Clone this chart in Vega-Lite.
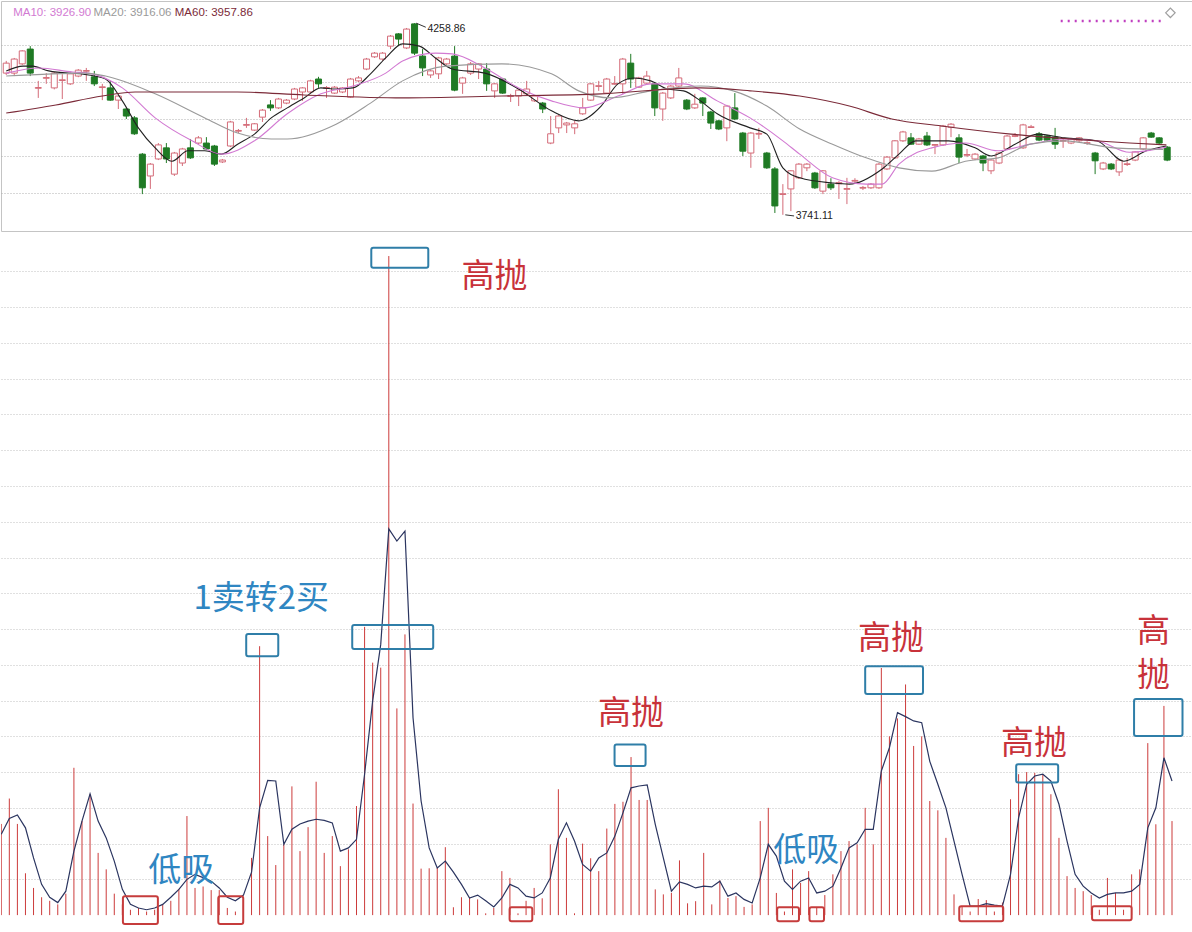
{
"$schema":"https://vega.github.io/schema/vega-lite/v6.json",
"padding":0,"spacing":0,"background":"#ffffff",
"bounds":"flush",
"resolve":{"scale":{"color":"independent","stroke":"independent"}},
"config":{"view":{"stroke":null},"text":{"font":"Liberation Sans"},"axis":{"minExtent":0,"maxExtent":0,"labelPadding":0,"tickSize":0,"offset":0}},
"datasets":{
"k":[
{"i":0,"o":4124,"c":4151,"h":4157,"l":4119},{"i":1,"o":4124,"c":4162,"h":4165,"l":4116},{"i":2,"o":4149,"c":4184,"h":4186,"l":4146},{"i":3,"o":4189,"c":4124,"h":4197,"l":4116},{"i":4,"o":4083,"c":4085,"h":4103,"l":4057},{"i":5,"o":4110,"c":4112,"h":4124,"l":4095},{"i":6,"o":4084,"c":4124,"h":4127,"l":4080},{"i":7,"o":4104,"c":4106,"h":4121,"l":4054},{"i":8,"o":4095,"c":4122,"h":4125,"l":4092},{"i":9,"o":4116,"c":4132,"h":4135,"l":4113},
{"i":10,"o":4129,"c":4131,"h":4138,"l":4103},{"i":11,"o":4114,"c":4095,"h":4130,"l":4089},{"i":12,"o":4085,"c":4087,"h":4095,"l":4051},{"i":13,"o":4084,"c":4051,"h":4103,"l":4049},{"i":14,"o":4051,"c":4062,"h":4064,"l":4027},{"i":15,"o":4027,"c":4008,"h":4030,"l":4000},{"i":16,"o":4003,"c":3960,"h":4008,"l":3957},{"i":17,"o":3905,"c":3814,"h":3908,"l":3797},{"i":18,"o":3846,"c":3878,"h":3881,"l":3811},{"i":19,"o":3892,"c":3930,"h":3935,"l":3889},
{"i":20,"o":3922,"c":3892,"h":3935,"l":3881},{"i":21,"o":3851,"c":3908,"h":3911,"l":3846},{"i":22,"o":3881,"c":3919,"h":3922,"l":3873},{"i":23,"o":3922,"c":3895,"h":3946,"l":3892},{"i":24,"o":3935,"c":3949,"h":3954,"l":3932},{"i":25,"o":3935,"c":3919,"h":3951,"l":3916},{"i":26,"o":3927,"c":3878,"h":3930,"l":3873},{"i":27,"o":3884,"c":3889,"h":3892,"l":3881},{"i":28,"o":3927,"c":3992,"h":3995,"l":3924},{"i":29,"o":3967,"c":3969,"h":3973,"l":3962},
{"i":30,"o":3983,"c":3985,"h":4003,"l":3976},{"i":31,"o":3970,"c":3987,"h":3989,"l":3968},{"i":32,"o":4005,"c":4024,"h":4027,"l":3992},{"i":33,"o":4038,"c":4030,"h":4051,"l":4022},{"i":34,"o":4030,"c":4054,"h":4057,"l":4027},{"i":35,"o":4043,"c":4051,"h":4054,"l":4040},{"i":36,"o":4054,"c":4081,"h":4084,"l":4051},{"i":37,"o":4073,"c":4084,"h":4086,"l":4049},{"i":38,"o":4073,"c":4103,"h":4106,"l":4070},{"i":39,"o":4108,"c":4095,"h":4114,"l":4084},
{"i":40,"o":4083,"c":4085,"h":4089,"l":4057},{"i":41,"o":4070,"c":4086,"h":4089,"l":4068},{"i":42,"o":4073,"c":4084,"h":4086,"l":4070},{"i":43,"o":4059,"c":4108,"h":4111,"l":4057},{"i":44,"o":4103,"c":4111,"h":4116,"l":4100},{"i":45,"o":4135,"c":4162,"h":4165,"l":4132},{"i":46,"o":4168,"c":4178,"h":4181,"l":4165},{"i":47,"o":4162,"c":4178,"h":4181,"l":4157},{"i":48,"o":4197,"c":4224,"h":4227,"l":4189},{"i":49,"o":4230,"c":4216,"h":4232,"l":4200},
{"i":50,"o":4192,"c":4243,"h":4246,"l":4189},{"i":51,"o":4257,"c":4178,"h":4259,"l":4173},{"i":52,"o":4170,"c":4138,"h":4189,"l":4116},{"i":53,"o":4119,"c":4130,"h":4135,"l":4111},{"i":54,"o":4122,"c":4165,"h":4168,"l":4108},{"i":55,"o":4149,"c":4162,"h":4165,"l":4146},{"i":56,"o":4170,"c":4078,"h":4197,"l":4075},{"i":57,"o":4097,"c":4111,"h":4114,"l":4068},{"i":58,"o":4124,"c":4149,"h":4154,"l":4119},{"i":59,"o":4135,"c":4149,"h":4151,"l":4108},
{"i":60,"o":4135,"c":4095,"h":4151,"l":4076},{"i":61,"o":4076,"c":4095,"h":4097,"l":4057},{"i":62,"o":4108,"c":4070,"h":4111,"l":4068},{"i":63,"o":4061,"c":4063,"h":4068,"l":4046},{"i":64,"o":4062,"c":4078,"h":4081,"l":4035},{"i":65,"o":4068,"c":4081,"h":4103,"l":4065},{"i":66,"o":4049,"c":4062,"h":4065,"l":4046},{"i":67,"o":4043,"c":4027,"h":4046,"l":4016},{"i":68,"o":3935,"c":3960,"h":4008,"l":3932},{"i":69,"o":3976,"c":4008,"h":4011,"l":3962},
{"i":70,"o":3984,"c":3989,"h":3992,"l":3962},{"i":71,"o":3976,"c":3987,"h":3995,"l":3959},{"i":72,"o":4014,"c":4030,"h":4057,"l":4011},{"i":73,"o":4051,"c":4095,"h":4097,"l":4049},{"i":74,"o":4088,"c":4090,"h":4103,"l":4076},{"i":75,"o":4070,"c":4108,"h":4111,"l":4068},{"i":76,"o":4094,"c":4096,"h":4116,"l":4092},{"i":77,"o":4095,"c":4162,"h":4165,"l":4068},{"i":78,"o":4151,"c":4108,"h":4176,"l":4084},{"i":79,"o":4086,"c":4111,"h":4114,"l":4084},
{"i":80,"o":4097,"c":4116,"h":4130,"l":4095},{"i":81,"o":4095,"c":4030,"h":4100,"l":4008},{"i":82,"o":4027,"c":4070,"h":4073,"l":3995},{"i":83,"o":4057,"c":4089,"h":4092,"l":4054},{"i":84,"o":4089,"c":4111,"h":4138,"l":4086},{"i":85,"o":4051,"c":4027,"h":4054,"l":4024},{"i":86,"o":4030,"c":4040,"h":4068,"l":4027},{"i":87,"o":4057,"c":4043,"h":4059,"l":4008},{"i":88,"o":4019,"c":3989,"h":4022,"l":3973},{"i":89,"o":3995,"c":3973,"h":3997,"l":3970},
{"i":90,"o":3976,"c":4035,"h":4038,"l":3940},{"i":91,"o":4030,"c":4000,"h":4070,"l":3997},{"i":92,"o":3962,"c":3913,"h":3965,"l":3900},{"i":93,"o":3908,"c":3962,"h":3965,"l":3868},{"i":94,"o":3959,"c":3961,"h":3976,"l":3946},{"i":95,"o":3908,"c":3868,"h":3911,"l":3865},{"i":96,"o":3865,"c":3765,"h":3870,"l":3746},{"i":97,"o":3796,"c":3798,"h":3824,"l":3741},{"i":98,"o":3811,"c":3860,"h":3862,"l":3751},{"i":99,"o":3841,"c":3878,"h":3881,"l":3838},
{"i":100,"o":3868,"c":3878,"h":3881,"l":3859},{"i":101,"o":3854,"c":3814,"h":3857,"l":3811},{"i":102,"o":3805,"c":3860,"h":3862,"l":3797},{"i":103,"o":3824,"c":3814,"h":3840,"l":3808},{"i":104,"o":3825,"c":3828,"h":3832,"l":3784},{"i":105,"o":3810,"c":3812,"h":3841,"l":3770},{"i":106,"o":3832,"c":3834,"h":3840,"l":3825},{"i":107,"o":3813,"c":3815,"h":3819,"l":3808},{"i":108,"o":3814,"c":3824,"h":3827,"l":3811},{"i":109,"o":3814,"c":3878,"h":3881,"l":3811},
{"i":110,"o":3865,"c":3897,"h":3900,"l":3862},{"i":111,"o":3895,"c":3941,"h":3943,"l":3892},{"i":112,"o":3941,"c":3965,"h":3968,"l":3938},{"i":113,"o":3949,"c":3932,"h":3962,"l":3930},{"i":114,"o":3932,"c":3946,"h":3949,"l":3930},{"i":115,"o":3954,"c":3930,"h":3965,"l":3927},{"i":116,"o":3929,"c":3931,"h":3932,"l":3905},{"i":117,"o":3930,"c":3981,"h":3984,"l":3927},{"i":118,"o":3978,"c":3986,"h":3989,"l":3951},{"i":119,"o":3949,"c":3897,"h":3959,"l":3881},
{"i":120,"o":3902,"c":3904,"h":3919,"l":3897},{"i":121,"o":3892,"c":3905,"h":3908,"l":3889},{"i":122,"o":3900,"c":3881,"h":3903,"l":3859},{"i":123,"o":3860,"c":3889,"h":3892,"l":3851},{"i":124,"o":3881,"c":3908,"h":3911,"l":3878},{"i":125,"o":3919,"c":3954,"h":3957,"l":3916},{"i":126,"o":3953,"c":3955,"h":3962,"l":3951},{"i":127,"o":3922,"c":3984,"h":3987,"l":3919},{"i":128,"o":3977,"c":3979,"h":3984,"l":3976},{"i":129,"o":3960,"c":3943,"h":3965,"l":3940},
{"i":130,"o":3954,"c":3943,"h":3957,"l":3940},{"i":131,"o":3951,"c":3932,"h":3976,"l":3919},{"i":132,"o":3940,"c":3942,"h":3946,"l":3922},{"i":133,"o":3935,"c":3946,"h":3949,"l":3932},{"i":134,"o":3941,"c":3949,"h":3951,"l":3938},{"i":135,"o":3934,"c":3936,"h":3940,"l":3930},{"i":136,"o":3908,"c":3887,"h":3911,"l":3851},{"i":137,"o":3865,"c":3881,"h":3884,"l":3862},{"i":138,"o":3878,"c":3865,"h":3881,"l":3862},{"i":139,"o":3857,"c":3889,"h":3892,"l":3846},
{"i":140,"o":3877,"c":3879,"h":3895,"l":3873},{"i":141,"o":3889,"c":3911,"h":3913,"l":3886},{"i":142,"o":3919,"c":3949,"h":3951,"l":3916},{"i":143,"o":3962,"c":3951,"h":3965,"l":3949},{"i":144,"o":3949,"c":3935,"h":3951,"l":3932},{"i":145,"o":3924,"c":3889,"h":3927,"l":3886}
],
"ma":[
{"i":0,"k":"MA5","v":4130},{"i":2.1,"k":"MA5","v":4143},{"i":3.3,"k":"MA5","v":4143},{"i":5.3,"k":"MA5","v":4130},{"i":10.3,"k":"MA5","v":4119},{"i":12.4,"k":"MA5","v":4108},{"i":14.5,"k":"MA5","v":4049},{"i":16.5,"k":"MA5","v":3976},{"i":18.6,"k":"MA5","v":3922},{"i":20.7,"k":"MA5","v":3886},{"i":22.7,"k":"MA5","v":3914},{"i":24.8,"k":"MA5","v":3914},{"i":26.9,"k":"MA5","v":3905},{"i":28.9,"k":"MA5","v":3932},{"i":31,"k":"MA5","v":3959},{"i":33.1,"k":"MA5","v":4003},{"i":35.1,"k":"MA5","v":4030},{"i":37.2,"k":"MA5","v":4057},{"i":39.3,"k":"MA5","v":4084},{"i":41.2,"k":"MA5","v":4081},{"i":43.3,"k":"MA5","v":4084},{"i":45.5,"k":"MA5","v":4122},{"i":47.4,"k":"MA5","v":4165},{"i":49.5,"k":"MA5","v":4203},{"i":51.6,"k":"MA5","v":4197},{"i":53.6,"k":"MA5","v":4165},{"i":55.7,"k":"MA5","v":4135},{"i":59.8,"k":"MA5","v":4124},{"i":64,"k":"MA5","v":4081},{"i":68.1,"k":"MA5","v":4022},{"i":71.5,"k":"MA5","v":3995},{"i":74.3,"k":"MA5","v":4035},{"i":76.4,"k":"MA5","v":4095},{"i":78.4,"k":"MA5","v":4111},{"i":80.5,"k":"MA5","v":4103},{"i":82.6,"k":"MA5","v":4081},{"i":84.6,"k":"MA5","v":4076},{"i":86.7,"k":"MA5","v":4049},{"i":88.8,"k":"MA5","v":4014},{"i":92.9,"k":"MA5","v":3976},{"i":95,"k":"MA5","v":3959},{"i":97,"k":"MA5","v":3868},{"i":99.1,"k":"MA5","v":3841},{"i":103.2,"k":"MA5","v":3827},{"i":105.3,"k":"MA5","v":3824},{"i":109.4,"k":"MA5","v":3865},{"i":111.5,"k":"MA5","v":3905},{"i":113.6,"k":"MA5","v":3941},{"i":117.7,"k":"MA5","v":3941},{"i":121,"k":"MA5","v":3922},{"i":123,"k":"MA5","v":3900},{"i":126,"k":"MA5","v":3932},{"i":128.8,"k":"MA5","v":3959},{"i":132.2,"k":"MA5","v":3949},{"i":136.2,"k":"MA5","v":3941},{"i":139.6,"k":"MA5","v":3886},{"i":142.4,"k":"MA5","v":3914},{"i":144.9,"k":"MA5","v":3927},
{"i":0,"k":"MA10","v":4124},{"i":4.1,"k":"MA10","v":4138},{"i":8.3,"k":"MA10","v":4127},{"i":10.3,"k":"MA10","v":4124},{"i":14.5,"k":"MA10","v":4084},{"i":18.6,"k":"MA10","v":4003},{"i":23.2,"k":"MA10","v":3941},{"i":26.9,"k":"MA10","v":3905},{"i":31,"k":"MA10","v":3941},{"i":35.1,"k":"MA10","v":4014},{"i":39.3,"k":"MA10","v":4068},{"i":43.3,"k":"MA10","v":4089},{"i":47.4,"k":"MA10","v":4124},{"i":49.5,"k":"MA10","v":4157},{"i":53.6,"k":"MA10","v":4178},{"i":55.7,"k":"MA10","v":4176},{"i":59.8,"k":"MA10","v":4138},{"i":64,"k":"MA10","v":4084},{"i":68.1,"k":"MA10","v":4049},{"i":72.2,"k":"MA10","v":4030},{"i":76.4,"k":"MA10","v":4062},{"i":80.5,"k":"MA10","v":4095},{"i":84.6,"k":"MA10","v":4095},{"i":88.8,"k":"MA10","v":4049},{"i":92.9,"k":"MA10","v":4003},{"i":97,"k":"MA10","v":3941},{"i":99.1,"k":"MA10","v":3905},{"i":103.2,"k":"MA10","v":3841},{"i":107.4,"k":"MA10","v":3824},{"i":109.4,"k":"MA10","v":3824},{"i":111.5,"k":"MA10","v":3878},{"i":115.6,"k":"MA10","v":3922},{"i":119.8,"k":"MA10","v":3935},{"i":123.9,"k":"MA10","v":3914},{"i":127.9,"k":"MA10","v":3932},{"i":132.2,"k":"MA10","v":3946},{"i":136.2,"k":"MA10","v":3941},{"i":140.3,"k":"MA10","v":3910},{"i":144.9,"k":"MA10","v":3924},
{"i":0,"k":"MA20","v":4116},{"i":9.9,"k":"MA20","v":4124},{"i":12.4,"k":"MA20","v":4116},{"i":18.6,"k":"MA20","v":4068},{"i":24.8,"k":"MA20","v":4003},{"i":28.9,"k":"MA20","v":3962},{"i":33.1,"k":"MA20","v":3946},{"i":35.1,"k":"MA20","v":3946},{"i":41.2,"k":"MA20","v":3986},{"i":45.5,"k":"MA20","v":4043},{"i":49.5,"k":"MA20","v":4103},{"i":54.9,"k":"MA20","v":4143},{"i":61.9,"k":"MA20","v":4149},{"i":68.1,"k":"MA20","v":4122},{"i":71.5,"k":"MA20","v":4076},{"i":75.6,"k":"MA20","v":4057},{"i":80.5,"k":"MA20","v":4076},{"i":86.7,"k":"MA20","v":4089},{"i":90.8,"k":"MA20","v":4076},{"i":95,"k":"MA20","v":4035},{"i":99.1,"k":"MA20","v":3973},{"i":103.2,"k":"MA20","v":3932},{"i":107.4,"k":"MA20","v":3895},{"i":111.5,"k":"MA20","v":3868},{"i":115.6,"k":"MA20","v":3859},{"i":119.8,"k":"MA20","v":3886},{"i":123.9,"k":"MA20","v":3895},{"i":127.9,"k":"MA20","v":3932},{"i":132.2,"k":"MA20","v":3941},{"i":138.3,"k":"MA20","v":3922},{"i":144.5,"k":"MA20","v":3918},
{"i":0,"k":"MA60","v":4016},{"i":6.2,"k":"MA60","v":4038},{"i":12,"k":"MA60","v":4062},{"i":16.1,"k":"MA60","v":4073},{"i":28.9,"k":"MA60","v":4073},{"i":37.2,"k":"MA60","v":4065},{"i":49.5,"k":"MA60","v":4057},{"i":61.9,"k":"MA60","v":4062},{"i":74.3,"k":"MA60","v":4068},{"i":86.7,"k":"MA60","v":4084},{"i":92.9,"k":"MA60","v":4076},{"i":99.1,"k":"MA60","v":4062},{"i":105.3,"k":"MA60","v":4035},{"i":110.6,"k":"MA60","v":4000},{"i":116.8,"k":"MA60","v":3981},{"i":125.5,"k":"MA60","v":3959},{"i":136.2,"k":"MA60","v":3941},{"i":140.3,"k":"MA60","v":3935},{"i":144.9,"k":"MA60","v":3930}
],
"hdr":[
{"i":0.87,"p":4286,"t":"MA10: 3926.90","k":"MA10"},{"i":10.9,"p":4286,"t":"MA20: 3916.06","k":"MA20"},{"i":21.05,"p":4286,"t":"MA60: 3957.86","k":"MA60"}
],
"notes":[{"i":52.6,"p":4243,"t":"4258.86"},{"i":98.6,"p":3737,"t":"3741.11"}],
"arr":[{"i":51.2,"p":4259,"i2":52.4,"p2":4248},{"i":97.3,"p":3741,"i2":98.4,"p2":3738}],
"dots":[{"i":131.7,"i2":144.3,"p":4265}],
"icon":[{"i":145.4,"p":4287}],
"osc":[
{"i":0,"b":2.55,"m":2.26},{"i":1,"b":3.26,"m":2.7},{"i":2,"b":2.55,"m":2.8},{"i":3,"b":1.17,"m":2.44},{"i":4,"b":0.76,"m":1.6},{"i":5,"b":0.5,"m":0.86},{"i":6,"b":0.4,"m":0.5},{"i":7,"b":0.3,"m":0.35},{"i":8,"b":0.6,"m":0.67},{"i":9,"b":4.12,"m":1.79},
{"i":10,"b":2.63,"m":2.63},{"i":11,"b":3.38,"m":3.39},{"i":12,"b":1.74,"m":2.63},{"i":13,"b":1.28,"m":2.16},{"i":14,"b":0.6,"m":1.51},{"i":15,"b":0.3,"m":0.72},{"i":16,"b":0.15,"m":0.3},{"i":17,"b":0.2,"m":0.2},{"i":18,"b":0.1,"m":0.15},{"i":19,"b":0.15,"m":0.2},
{"i":20,"b":0.3,"m":0.3},{"i":21,"b":0.4,"m":0.5},{"i":22,"b":0.73,"m":0.72},{"i":23,"b":2.77,"m":1.0},{"i":24,"b":0.76,"m":1.14},{"i":25,"b":0.8,"m":1.05},{"i":26,"b":0.7,"m":0.95},{"i":27,"b":0.7,"m":0.76},{"i":28,"b":0.2,"m":0.5},{"i":29,"b":0.1,"m":0.4},
{"i":30,"b":0.3,"m":0.56},{"i":31,"b":1.6,"m":1.2},{"i":32,"b":7.52,"m":3.0},{"i":33,"b":2.21,"m":3.77},{"i":34,"b":1.4,"m":3.75},{"i":35,"b":1.98,"m":1.98},{"i":36,"b":3.6,"m":2.4},{"i":37,"b":1.79,"m":2.55},{"i":38,"b":2.46,"m":2.63},{"i":39,"b":3.73,"m":2.68},
{"i":40,"b":1.74,"m":2.65},{"i":41,"b":2.21,"m":2.58},{"i":42,"b":1.37,"m":1.79},{"i":43,"b":1.84,"m":1.88},{"i":44,"b":3.05,"m":2.12},{"i":45,"b":8.06,"m":3.94},{"i":46,"b":7.06,"m":5.99},{"i":47,"b":6.92,"m":7.57},{"i":48,"b":18.43,"m":10.8},{"i":49,"b":5.78,"m":10.46},
{"i":50,"b":7.85,"m":10.74},{"i":51,"b":3.12,"m":5.52},{"i":52,"b":1.3,"m":3.19},{"i":53,"b":1.31,"m":1.88},{"i":54,"b":1.32,"m":1.32},{"i":55,"b":1.9,"m":1.51},{"i":56,"b":0.22,"m":1.2},{"i":57,"b":0.5,"m":0.86},{"i":58,"b":0.48,"m":0.48},{"i":59,"b":0.44,"m":0.56},
{"i":60,"b":0.05,"m":0.4},{"i":61,"b":0.2,"m":0.23},{"i":62,"b":1.23,"m":0.48},{"i":63,"b":1.04,"m":0.86},{"i":64,"b":0.05,"m":0.76},{"i":65,"b":0.4,"m":0.53},{"i":66,"b":0.76,"m":0.48},{"i":67,"b":0.47,"m":0.62},{"i":68,"b":1.98,"m":1.04},{"i":69,"b":3.52,"m":2.12},
{"i":70,"b":2.16,"m":2.58},{"i":71,"b":0.05,"m":2.07},{"i":72,"b":2.0,"m":1.42},{"i":73,"b":1.59,"m":1.23},{"i":74,"b":1.23,"m":1.6},{"i":75,"b":2.42,"m":1.74},{"i":76,"b":3.11,"m":2.21},{"i":77,"b":3.17,"m":2.86},{"i":78,"b":4.42,"m":3.56},{"i":79,"b":3.22,"m":3.61},
{"i":80,"b":3.22,"m":3.64},{"i":81,"b":0.72,"m":2.54},{"i":82,"b":0.58,"m":1.6},{"i":83,"b":0.62,"m":0.67},{"i":84,"b":1.53,"m":0.93},{"i":85,"b":0.33,"m":0.86},{"i":86,"b":0.39,"m":0.76},{"i":87,"b":1.74,"m":0.81},{"i":88,"b":0.3,"m":0.79},{"i":89,"b":0.97,"m":0.95},
{"i":90,"b":0.48,"m":0.53},{"i":91,"b":0.53,"m":0.62},{"i":92,"b":0.23,"m":0.44},{"i":93,"b":0.3,"m":0.34},{"i":94,"b":2.63,"m":1.04},{"i":95,"b":3.0,"m":1.98},{"i":96,"b":0.62,"m":1.65},{"i":97,"b":0.1,"m":0.95},{"i":98,"b":1.28,"m":0.72},{"i":99,"b":0.9,"m":0.95},
{"i":100,"b":1.23,"m":1.04},{"i":101,"b":0.2,"m":0.62},{"i":102,"b":0.56,"m":0.67},{"i":103,"b":1.14,"m":0.81},{"i":104,"b":1.79,"m":1.32},{"i":105,"b":2.07,"m":1.88},{"i":106,"b":1.98,"m":2.02},{"i":107,"b":3.0,"m":2.4},{"i":108,"b":1.98,"m":2.4},{"i":109,"b":6.91,"m":4.03},
{"i":110,"b":5.0,"m":4.68},{"i":111,"b":5.5,"m":5.66},{"i":112,"b":6.45,"m":5.55},{"i":113,"b":4.73,"m":5.43},{"i":114,"b":5.0,"m":5.38},{"i":115,"b":3.19,"m":4.3},{"i":116,"b":2.93,"m":3.66},{"i":117,"b":2.16,"m":3.0},{"i":118,"b":0.58,"m":2.07},{"i":119,"b":0.25,"m":1.14},
{"i":120,"b":0.1,"m":0.25},{"i":121,"b":0.45,"m":0.25},{"i":122,"b":0.42,"m":0.32},{"i":123,"b":0.1,"m":0.28},{"i":124,"b":0.35,"m":0.25},{"i":125,"b":3.24,"m":1.14},{"i":126,"b":3.94,"m":2.72},{"i":127,"b":4.0,"m":3.66},{"i":128,"b":3.98,"m":3.89},{"i":129,"b":3.94,"m":3.94},
{"i":130,"b":3.38,"m":3.75},{"i":131,"b":2.16,"m":3.1},{"i":132,"b":1.09,"m":2.07},{"i":133,"b":0.76,"m":1.14},{"i":134,"b":0.67,"m":0.81},{"i":135,"b":0.56,"m":0.62},{"i":136,"b":0.15,"m":0.48},{"i":137,"b":1.04,"m":0.58},{"i":138,"b":0.62,"m":0.62},{"i":139,"b":0.15,"m":0.62},
{"i":140,"b":1.14,"m":0.67},{"i":141,"b":1.28,"m":0.86},{"i":142,"b":4.81,"m":2.44},{"i":143,"b":2.54,"m":3.0},{"i":144,"b":5.85,"m":4.4},{"i":145,"b":2.63,"m":3.75}
],
"boxes":[
{"x1":45.83,"x2":52.89,"y1":18.66,"y2":18.1,"k":"sell"},{"x1":30.34,"x2":34.31,"y1":7.86,"y2":7.24,"k":"sell"},{"x1":43.47,"x2":53.5,"y1":8.11,"y2":7.44,"k":"sell"},{"x1":75.96,"x2":79.8,"y1":4.77,"y2":4.17,"k":"sell"},{"x1":107.0,"x2":114.16,"y1":6.96,"y2":6.18,"k":"sell"},{"x1":125.7,"x2":130.9,"y1":4.22,"y2":3.71,"k":"sell"},{"x1":140.3,"x2":146.3,"y1":6.04,"y2":5.01,"k":"sell"},
{"x1":15.07,"x2":19.4,"y1":0.53,"y2":-0.25,"k":"buy"},{"x1":26.88,"x2":29.97,"y1":0.53,"y2":-0.25,"k":"buy"},{"x1":62.96,"x2":65.77,"y1":0.22,"y2":-0.17,"k":"buy"},{"x1":96.1,"x2":98.8,"y1":0.22,"y2":-0.17,"k":"buy"},{"x1":100.1,"x2":101.9,"y1":0.22,"y2":-0.17,"k":"buy"},{"x1":118.65,"x2":124.1,"y1":0.25,"y2":-0.17,"k":"buy"},{"x1":135.1,"x2":140.0,"y1":0.25,"y2":-0.14,"k":"buy"}
],
"labels":[
{"i":61.1,"v":17.85,"t":"高抛","k":"sell"},{"i":32.2,"v":8.84,"t":"1卖转2买","k":"buy"},{"i":22.3,"v":1.23,"t":"低吸","k":"buy"},{"i":78.0,"v":5.62,"t":"高抛","k":"sell"},{"i":99.7,"v":1.79,"t":"低吸","k":"buy"},{"i":110.2,"v":7.72,"t":"高抛","k":"sell"},{"i":127.9,"v":4.78,"t":"高抛","k":"sell"},{"i":142.7,"v":7.92,"t":"高","k":"sell"},{"i":142.7,"v":6.69,"t":"抛","k":"sell"}
]
},
"vconcat":[
{
"width":1192,"height":230,
"view":{"stroke":"#c4c4c4"},
"layer":[
{"data":{"name":"k"},"mark":{"type":"rule","strokeWidth":1,"clip":true},
 "encoding":{
  "x":{"field":"i","type":"quantitative","scale":{"domain":[-0.03,147.6],"nice":false,"zero":false},"axis":null},
  "y":{"field":"l","type":"quantitative","scale":{"domain":[3697.3,4318.9],"nice":false,"zero":false},"axis":{"grid":true,"values":[3800,3900,4000,4100,4200],"labels":false,"ticks":false,"domain":false,"title":null,"gridDash":[1,2],"gridColor":"#b0b0b0","gridWidth":1}},
  "y2":{"field":"h"},
  "color":{"condition":{"test":"datum.c >= datum.o","value":"#d46b78"},"value":"#1f7a24"}}},
{"data":{"name":"k"},"mark":{"type":"bar","size":6,"strokeWidth":1,"clip":true},
 "encoding":{
  "x":{"field":"i","type":"quantitative"},
  "y":{"field":"o","type":"quantitative"},
  "y2":{"field":"c"},
  "fill":{"condition":{"test":"datum.c >= datum.o","value":"#ffffff"},"value":"#1f7a24"},
  "stroke":{"condition":{"test":"datum.c >= datum.o","value":"#d46b78"},"value":"#1f7a24"}}},
{"data":{"name":"ma"},"mark":{"type":"line","strokeWidth":1.1,"interpolate":"monotone","clip":true},
 "encoding":{
  "x":{"field":"i","type":"quantitative"},
  "y":{"field":"v","type":"quantitative"},
  "color":{"field":"k","type":"nominal","scale":{"domain":["MA5","MA10","MA20","MA60"],"range":["#222222","#d27ad2","#9a9a9a","#7b2a38"]},"legend":null},
  "order":{"field":"i"}}},
{"data":{"name":"hdr"},"mark":{"type":"text","align":"left","baseline":"middle","fontSize":11.5,"clip":true},
 "encoding":{
  "x":{"field":"i","type":"quantitative"},
  "y":{"field":"p","type":"quantitative"},
  "text":{"field":"t"},
  "color":{"field":"k","type":"nominal","legend":null}}},
{"data":{"name":"notes"},"mark":{"type":"text","align":"left","baseline":"middle","fontSize":10.5,"color":"#222222","clip":true},
 "encoding":{"x":{"field":"i","type":"quantitative"},"y":{"field":"p","type":"quantitative"},"text":{"field":"t"}}},
{"data":{"name":"arr"},"mark":{"type":"rule","color":"#333333","strokeWidth":1,"clip":true},
 "encoding":{"x":{"field":"i","type":"quantitative"},"x2":{"field":"i2"},"y":{"field":"p","type":"quantitative"},"y2":{"field":"p2"}}},
{"data":{"name":"dots"},"mark":{"type":"rule","color":"#c040c0","strokeWidth":2.5,"strokeDash":[2,5],"clip":true},
 "encoding":{"x":{"field":"i","type":"quantitative"},"x2":{"field":"i2"},"y":{"field":"p","type":"quantitative"}}},
{"data":{"name":"icon"},"mark":{"type":"point","shape":"diamond","filled":false,"color":"#777777","size":90,"strokeWidth":1.2,"clip":true},
 "encoding":{"x":{"field":"i","type":"quantitative"},"y":{"field":"p","type":"quantitative"}}}
]
},
{
"width":1192,"height":702,
"layer":[
{"data":{"name":"osc"},"mark":{"type":"rule","color":"#cc3b3b","strokeWidth":1,"clip":true},
 "encoding":{
  "x":{"field":"i","type":"quantitative","scale":{"domain":[-0.03,147.6],"nice":false,"zero":false},"axis":null},
  "y":{"field":"b","type":"quantitative","scale":{"domain":[-0.5,19.13],"nice":false,"zero":false},"axis":{"grid":true,"values":[1,2,3,4,5,6,7,8,9,10,11,12,13,14,15,16,17,18],"labels":false,"ticks":false,"domain":false,"title":null,"gridDash":[1,2],"gridColor":"#c0c0c0","gridWidth":1}},
  "y2":{"datum":0}}},
{"data":{"name":"osc"},"mark":{"type":"line","color":"#2b3560","strokeWidth":1.2,"clip":true},
 "encoding":{"x":{"field":"i","type":"quantitative"},"y":{"field":"m","type":"quantitative"}}},
{"data":{"name":"boxes"},"mark":{"type":"rect","fillOpacity":0,"strokeWidth":2,"cornerRadius":2,"clip":true},
 "encoding":{
  "x":{"field":"x1","type":"quantitative"},"x2":{"field":"x2"},
  "y":{"field":"y1","type":"quantitative"},"y2":{"field":"y2"},
  "stroke":{"field":"k","type":"nominal","scale":{"domain":["sell","buy"],"range":["#2f7ea8","#c63c3c"]},"legend":null}}},
{"data":{"name":"labels"},"mark":{"type":"text","font":"Noto Sans CJK SC","fontSize":33,"align":"center","baseline":"middle","clip":true},
 "encoding":{
  "x":{"field":"i","type":"quantitative"},"y":{"field":"v","type":"quantitative"},
  "text":{"field":"t"},
  "color":{"field":"k","type":"nominal","scale":{"domain":["sell","buy"],"range":["#c8323a","#2f86c2"]},"legend":null}}}
]
}
]
}
